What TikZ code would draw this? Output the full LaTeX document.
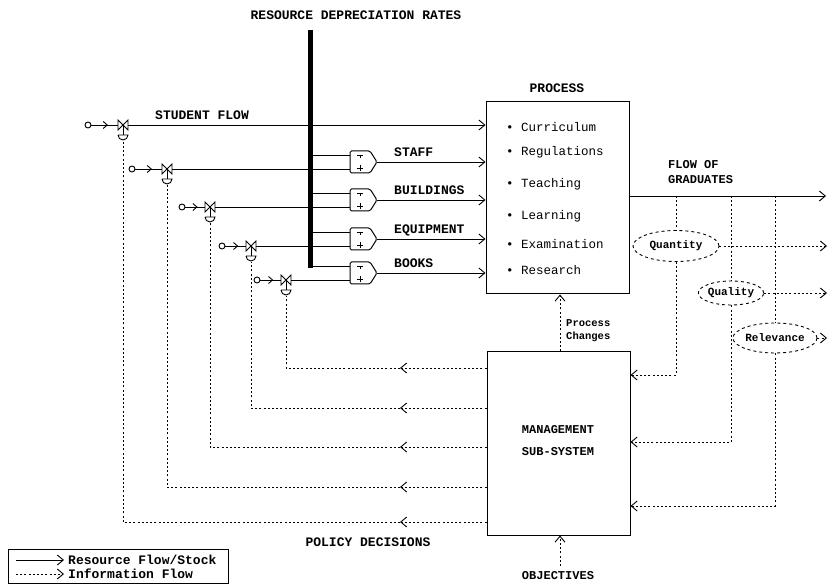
\documentclass[tikz,border=0pt]{standalone}
\usepackage{fontspec}
\setmainfont{Liberation Mono}
\usetikzlibrary{arrows.meta,shapes.geometric,decorations.markings}
\begin{document}
\begin{tikzpicture}[x=1pt,y=-1pt,
  >={Straight Barb[length=6pt,width=10pt]},
  res/.style={line width=0.9pt},
  info/.style={line width=0.9pt,dash pattern=on 2pt off 2.2pt},
  box/.style={draw,line width=1pt,inner sep=0pt},
  oval/.style={ellipse,draw,dashed,line width=0.9pt,inner sep=0pt,font=\fontsize{11}{12}\selectfont\bfseries},
  lab/.style={font=\fontsize{13}{14}\selectfont\bfseries,inner sep=0pt},
  itm/.style={font=\fontsize{12.5}{14}\selectfont,inner sep=0pt,anchor=west},
  small/.style={font=\fontsize{10.5}{13}\selectfont\bfseries,inner sep=0pt,align=left},
  src/.style={circle,draw,line width=0.9pt,minimum size=6pt,inner sep=0pt},
  midarrow/.style={postaction={decorate},decoration={markings,mark=at position 0.62 with {\arrow{Straight Barb[length=4pt,width=7pt]}}}}
]
\useasboundingbox (0,0) rectangle (828,585);

% main boxes
\node[box,minimum width=143pt,minimum height=192pt] (proc) at (557.5,198) {};
\node[box,minimum width=143pt,minimum height=183pt] (mgmt) at (558.5,443.5) {};
\node[lab] (proct) at (557,88) {PROCESS};
\node[itm] (i1) at (506,127) {• Curriculum};
\node[itm] (i2) at (506,152) {• Regulations};
\node[itm] (i3) at (506,184) {• Teaching};
\node[itm] (i4) at (506,216) {• Learning};
\node[itm] (i5) at (506,244) {• Examination};
\node[itm] (i6) at (506,270) {• Research};
\node[lab,align=center,font=\fontsize{12}{22}\selectfont\bfseries] (mgt) at (558,441) {MANAGEMENT\\SUB-SYSTEM};

% title and depreciation bar
\node[lab] (title) at (356,15) {RESOURCE DEPRECIATION RATES};
\coordinate (bartop) at (310,30);
\coordinate (barbot) at (310,268);
\draw[line width=5pt] (bartop) -- (barbot);

% valve chains and policy lines
\foreach \nm/\xc/\xv/\yy/\py in {st/88/123/125/522, sf/132/167/169/487, bu/182/210/207/447, eq/222/251/246/408, bk/257/286/280/368}{
  \node[src] (s\nm) at (\xc,\yy) {};
  \coordinate (v\nm) at (\xv,\yy);
  \draw[res,midarrow] (s\nm) -- (\xv-5,\yy);
  \draw[res] (\xv-5,\yy-5) -- (\xv+5,\yy+5) -- (\xv+5,\yy-5) -- (\xv-5,\yy+5) -- cycle;
  \draw[res] (v\nm) -- (\xv,\yy+10);
  \draw[res] (\xv-5,\yy+10) -- (\xv+5,\yy+10) arc[start angle=0,end angle=180,radius=5];
  \coordinate (t\nm) at (\xv,\yy+16);
  \coordinate (p\nm) at (400,\py);
  \draw[info,->] (mgmt.west |- p\nm) -- (p\nm);
  \draw[info] (p\nm) -- (t\nm |- p\nm) -- (t\nm);
}

% student flow
\draw[res,->] ([xshift=5pt]vst) -- (proc.west |- vst);
\node[lab,anchor=base west] (stl) at (155,120) {STUDENT FLOW};

% resource gates
\foreach \nm/\yc/\lbl in {sf/162/STAFF, bu/200/BUILDINGS, eq/239/EQUIPMENT, bk/273/BOOKS}{
  \coordinate (g\nm) at (350,\yc);
  \draw[line width=1pt,rounded corners=1.5pt] (350,\yc-11) -- (370,\yc-11) -- (377,\yc) -- (370,\yc+11) -- (350,\yc+11) -- cycle;
  \draw[line width=0.8pt] (357,\yc-7) -- (363,\yc-7) (360,\yc-7) -- (360,\yc-4);
  \draw[line width=0.8pt] (357,\yc+6) -- (363,\yc+6) (360,\yc+3) -- (360,\yc+9);
  \draw[res] (310,\yc-7) -- (350,\yc-7);
  \draw[res] ([xshift=5pt]v\nm) -- (g\nm |- v\nm);
  \coordinate (o\nm) at (377,\yc);
  \draw[res,->] (o\nm) -- (proc.west |- o\nm);
  \node[lab,anchor=base west] (l\nm) at (394,\yc-5) {\lbl};
}

% graduates
\coordinate (gr) at (826,196);
\draw[res,->] (proc.east |- gr) -- (gr);
\node[lab,align=left,anchor=west,font=\fontsize{12}{15}\selectfont\bfseries] (grl) at (668,172) {FLOW OF\\GRADUATES};

% quality indicators
\node[oval,minimum width=86pt,minimum height=31pt] (qn) at (676,246) {Quantity};
\node[oval,minimum width=62pt,minimum height=24pt] (ql) at (731,293) {Quality};
\node[oval,minimum width=84pt,minimum height=30pt] (rl) at (775,338) {Relevance};
\coordinate (redge) at (827,0);
\coordinate (yq) at (0,375);
\coordinate (yl) at (0,442);
\coordinate (yr) at (0,506);
\draw[info] (qn.north |- gr) -- (qn.north);
\draw[info] (ql.north |- gr) -- (ql.north);
\draw[info] (rl.north |- gr) -- (rl.north);
\draw[info,->] (qn.east) -- (qn.east -| redge);
\draw[info,->] (ql.east) -- (ql.east -| redge);
\draw[info,->] (rl.east) -- (rl.east -| redge);
\draw[info,->] (qn.south) |- (mgmt.east |- yq);
\draw[info,->] (ql.south) |- (mgmt.east |- yl);
\draw[info,->] (rl.south) |- (mgmt.east |- yr);

% process changes
\coordinate (pcx) at (560,0);
\draw[info,->] (mgmt.north -| pcx) -- (proc.south -| pcx);
\node[small,anchor=west] (pcl) at (566,331) {Process\\Changes};

% objectives
\coordinate (obj) at (560,566);
\draw[info,->] (obj) -- (mgmt.south -| obj);
\node[lab,font=\fontsize{12}{14}\selectfont\bfseries] (objl) at (558,576) {OBJECTIVES};

% policy decisions
\node[lab] (pdl) at (368,542) {POLICY DECISIONS};

% legend
\node[draw,line width=1pt,minimum width=220pt,minimum height=34pt,inner sep=0pt] (leg) at (118,566) {};
\coordinate (la1) at (16,560);
\coordinate (lb1) at (64,560);
\coordinate (la2) at (16,574);
\coordinate (lb2) at (64,574);
\draw[res,->] (la1) -- (lb1);
\draw[info,->] (la2) -- (lb2);
\node[lab,anchor=west] (lt1) at (68,560) {Resource Flow/Stock};
\node[lab,anchor=west] (lt2) at (68,574) {Information Flow};
\end{tikzpicture}
\end{document}
